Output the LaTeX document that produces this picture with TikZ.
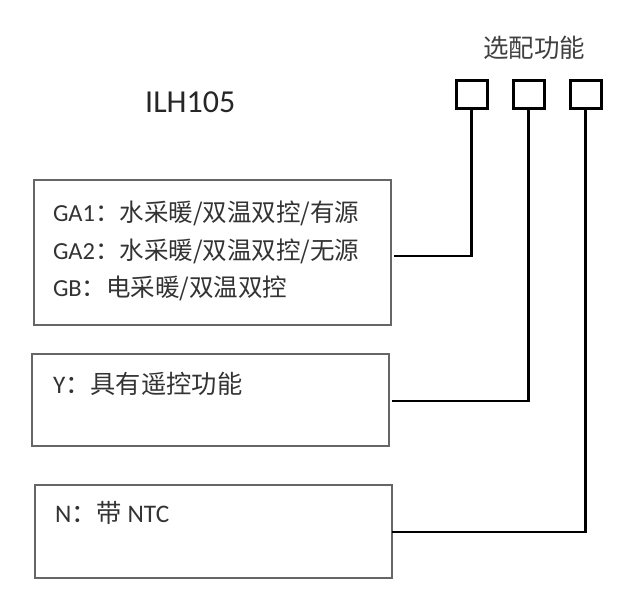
\documentclass[tikz,border=0pt]{standalone}
\usepackage{fontspec}
\setmainfont{Carlito}
\newfontfamily\cjk{Noto Sans CJK SC}
\begin{document}
\begin{tikzpicture}[x=1pt,y=-1pt,
  box/.style={draw=black!60,line width=1.2pt,minimum width=357pt,inner sep=0pt,outer sep=0pt},
  sq/.style={draw=black,line width=3pt,minimum width=31pt,minimum height=28pt,inner sep=0pt,outer sep=0pt},
  conn/.style={draw=black,line width=2.8pt},
  txt/.style={anchor=base west,inner sep=0pt,outer sep=0pt,text=black!80,font=\fontsize{24.5}{28}\selectfont},
  txtb/.style={txt,font=\fontsize{25.3}{29}\selectfont}]
\useasboundingbox (0,0) rectangle (640,612);
% title texts
\node[anchor=base west,inner sep=0pt,text=black!85,font=\fontsize{32}{36}\selectfont] (title) at (145,113) {ILH105};
\node[inner sep=0pt,text=black!75,font=\cjk\fontsize{25.5}{29}\selectfont] (opt) at (534,48) {选配功能};
% squares
\node[sq] (s1) at (471.5,94.5) {};
\node[sq] (s2) at (528.5,94.5) {};
\node[sq] (s3) at (585.5,94.5) {};
% boxes
\node[box,minimum height=145pt] (b1) at (212.5,252.5) {};
\node[box,minimum height=92pt] (b2) at (210.5,400) {};
\node[box,minimum height=93pt] (b3) at (213.5,531.5) {};
% box texts
\node[txt] (t1a) at (53,222) {GA1{\cjk ：水采暖/双温双控/有源}};
\node[txt] (t1b) at (53,260) {GA2{\cjk ：水采暖/双温双控/无源}};
\node[txt] (t1c) at (53,297) {GB{\cjk ：电采暖/双温双控}};
\node[txtb] (t2) at (53,393) {Y{\cjk ：具有遥控功能}};
\node[txtb] (t3) at (55,522) {N{\cjk ：带} NTC};
% connectors
\draw[conn] ([xshift=3pt,yshift=-3.5pt]b1.east) -| (s1.south);
\draw[conn] ([xshift=2.5pt,yshift=-1pt]b2.east) -| (s2.south);
\draw[conn] ([yshift=-0.5pt]b3.east) -| (s3.south);
\end{tikzpicture}
\end{document}
